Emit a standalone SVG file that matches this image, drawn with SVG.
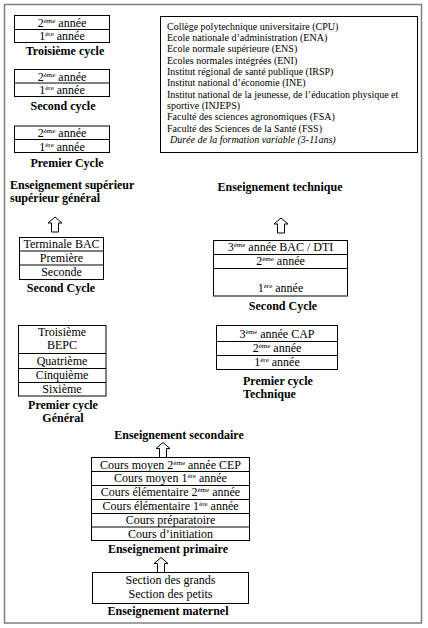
<svg xmlns="http://www.w3.org/2000/svg" width="428" height="628" viewBox="0 0 428 628">
<style>
.bx{fill:#fff;stroke:#000;stroke-width:1}
.ln{stroke:#000;stroke-width:1}
.t{font-family:"Liberation Serif","Times New Roman",serif;font-size:12px;fill:#000}
.c{text-anchor:middle}
.b{font-weight:bold}
.s{font-family:"Liberation Serif","Times New Roman",serif;font-size:10px;fill:#000}
.sup{font-size:7px}
.arr{fill:#fff;stroke:#000;stroke-width:1}
</style>
<defs>
<path id="arrow" d="M0,0 L7,6 L3.5,6 L3.5,15 L-3.5,15 L-3.5,6 L-7,6 Z"/>
</defs>
<rect x="0" y="0" width="428" height="628" fill="#fff"/>
<rect x="4.5" y="4.5" width="417" height="618.5" fill="none" stroke="#808080" stroke-width="1.5"/>

<g id="troisieme-cycle">
<rect class="bx" x="14.5" y="15.5" width="95" height="27"/>
<line class="ln" x1="14.5" y1="29.5" x2="109.5" y2="29.5"/>
<text class="t c" x="62" y="26.5">2<tspan class="sup" dy="-4">ème</tspan><tspan dy="4"> année</tspan></text>
<text class="t c" x="62" y="40">1<tspan class="sup" dy="-4">ère</tspan><tspan dy="4">  année</tspan></text>
<text class="t c b" x="65" y="55">Troisième cycle</text>
</g>

<g id="second-cycle-sup">
<rect class="bx" x="14.5" y="69.5" width="95" height="27"/>
<line class="ln" x1="14.5" y1="83" x2="109.5" y2="83"/>
<text class="t c" x="62" y="80.5">2<tspan class="sup" dy="-4">ème</tspan><tspan dy="4"> année</tspan></text>
<text class="t c" x="62" y="94">1<tspan class="sup" dy="-4">ère</tspan><tspan dy="4">  année</tspan></text>
<text class="t c b" x="63" y="110">Second cycle</text>
</g>

<g id="premier-cycle-sup">
<rect class="bx" x="14.5" y="126" width="95" height="26.5"/>
<line class="ln" x1="14.5" y1="139.5" x2="109.5" y2="139.5"/>
<text class="t c" x="62" y="137">2<tspan class="sup" dy="-4">ème</tspan><tspan dy="4"> année</tspan></text>
<text class="t c" x="62" y="150.5">1<tspan class="sup" dy="-4">ère</tspan><tspan dy="4">  année</tspan></text>
<text class="t c b" x="67" y="167">Premier Cycle</text>
</g>

<g id="etablissements">
<rect class="bx" x="160.5" y="16.5" width="257" height="136"/>
<text class="s" x="167" y="29.5">Collège polytechnique universitaire (CPU)</text>
<text class="s" x="167" y="40.8">Ecole nationale d’administration  (ENA)</text>
<text class="s" x="167" y="52.2">Ecole normale supérieure  (ENS)</text>
<text class="s" x="167" y="63.5">Ecoles normales intégrées  (ENI)</text>
<text class="s" x="167" y="74.8">Institut régional de santé publique  (IRSP)</text>
<text class="s" x="167" y="86.2">Institut national d’économie  (INE)</text>
<text class="s" x="167" y="97.5">Institut national de la jeunesse, de l’éducation physique et</text>
<text class="s" x="167" y="108.8">sportive  (INJEPS)</text>
<text class="s" x="167" y="120.2">Faculté des sciences agronomiques  (FSA)</text>
<text class="s" x="167" y="131.5">Faculté des Sciences de la Santé  (FSS)</text>
<text class="s" x="170" y="142.8" font-style="italic">Durée de la formation variable (3-11ans)</text>
</g>

<g id="ens-superieur">
<text class="t b" x="10" y="189">Enseignement supérieur</text>
<text class="t b" x="10" y="202">supérieur général</text>
</g>

<g id="ens-technique">
<text class="t c b" x="280" y="191">Enseignement technique</text>
</g>

<g id="second-cycle-general">
<rect class="bx" x="19.5" y="237.5" width="84" height="42"/>
<line class="ln" x1="19.5" y1="251" x2="103.5" y2="251"/>
<line class="ln" x1="19.5" y1="265" x2="103.5" y2="265"/>
<text class="t c" x="61.5" y="248">Terminale BAC</text>
<text class="t c" x="61.5" y="262">Première</text>
<text class="t c" x="61.5" y="276">Seconde</text>
<text class="t c b" x="61" y="292">Second Cycle</text>
</g>

<g id="second-cycle-technique">
<rect class="bx" x="213.5" y="240.5" width="134" height="55.5"/>
<line class="ln" x1="213.5" y1="254.5" x2="347.5" y2="254.5"/>
<line class="ln" x1="213.5" y1="268.5" x2="347.5" y2="268.5"/>
<text class="t c" x="280.5" y="251">3<tspan class="sup" dy="-4">ème</tspan><tspan dy="4"> année BAC / DTI</tspan></text>
<text class="t c" x="280.5" y="265">2<tspan class="sup" dy="-4">ème</tspan><tspan dy="4"> année</tspan></text>
<text class="t c" x="280.5" y="292">1<tspan class="sup" dy="-4">ère</tspan><tspan dy="4"> année</tspan></text>
<text class="t c b" x="283" y="310">Second Cycle</text>
</g>

<g id="premier-cycle-general">
<rect class="bx" x="18.5" y="325.5" width="87.5" height="70.5"/>
<line class="ln" x1="18.5" y1="353.5" x2="106" y2="353.5"/>
<line class="ln" x1="18.5" y1="368.5" x2="106" y2="368.5"/>
<line class="ln" x1="18.5" y1="382.5" x2="106" y2="382.5"/>
<text class="t c" x="62" y="336">Troisième</text>
<text class="t c" x="62" y="349">BEPC</text>
<text class="t c" x="62" y="365">Quatrième</text>
<text class="t c" x="62" y="379">Cinquième</text>
<text class="t c" x="62" y="393">Sixième</text>
<text class="t c b" x="63" y="409">Premier cycle</text>
<text class="t c b" x="63" y="422">Général</text>
</g>

<g id="premier-cycle-technique">
<rect class="bx" x="216.5" y="325.5" width="121" height="44"/>
<line class="ln" x1="216.5" y1="341.5" x2="337.5" y2="341.5"/>
<line class="ln" x1="216.5" y1="355.5" x2="337.5" y2="355.5"/>
<text class="t c" x="277" y="337.5">3<tspan class="sup" dy="-4">ème</tspan><tspan dy="4"> année CAP</tspan></text>
<text class="t c" x="277" y="352">2<tspan class="sup" dy="-4">ème</tspan><tspan dy="4"> année</tspan></text>
<text class="t c" x="277" y="366">1<tspan class="sup" dy="-4">ère</tspan><tspan dy="4"> année</tspan></text>
<text class="t b" x="243" y="385">Premier cycle</text>
<text class="t b" x="243" y="397.5">Technique</text>
</g>

<g id="ens-secondaire">
<text class="t c b" x="179" y="439">Enseignement secondaire</text>
</g>

<g id="ens-primaire">
<rect class="bx" x="91.5" y="457.5" width="158" height="83"/>
<line class="ln" x1="91.5" y1="471.5" x2="249.5" y2="471.5"/>
<line class="ln" x1="91.5" y1="485.5" x2="249.5" y2="485.5"/>
<line class="ln" x1="91.5" y1="499.5" x2="249.5" y2="499.5"/>
<line class="ln" x1="91.5" y1="513.5" x2="249.5" y2="513.5"/>
<line class="ln" x1="91.5" y1="527" x2="249.5" y2="527"/>
<text class="t c" x="170.5" y="468.5">Cours moyen 2<tspan class="sup" dy="-4">ème</tspan><tspan dy="4"> année CEP</tspan></text>
<text class="t c" x="170.5" y="482">Cours moyen 1<tspan class="sup" dy="-4">ère</tspan><tspan dy="4"> année</tspan></text>
<text class="t c" x="170.5" y="496">Cours élémentaire 2<tspan class="sup" dy="-4">ème</tspan><tspan dy="4"> année</tspan></text>
<text class="t c" x="170.5" y="510">Cours élémentaire 1<tspan class="sup" dy="-4">ère</tspan><tspan dy="4">  année</tspan></text>
<text class="t c" x="170.5" y="523.5">Cours préparatoire</text>
<text class="t c" x="170.5" y="537.5">Cours d’initiation</text>
<text class="t c b" x="168" y="552.5">Enseignement primaire</text>
</g>

<g id="ens-maternel">
<rect class="bx" x="92.5" y="572.5" width="156" height="31"/>
<text class="t c" x="170.5" y="583.5">Section des grands</text>
<text class="t c" x="170.5" y="597.5">Section des petits</text>
<text class="t c b" x="168" y="614.5">Enseignement maternel</text>
</g>

<g id="connectors">
<use href="#arrow" class="arr" x="55" y="217"/>
<use href="#arrow" class="arr" x="281" y="218"/>
<use href="#arrow" class="arr" x="163" y="442.5"/>
<use href="#arrow" class="arr" x="161" y="557.5"/>
</g>
</svg>
